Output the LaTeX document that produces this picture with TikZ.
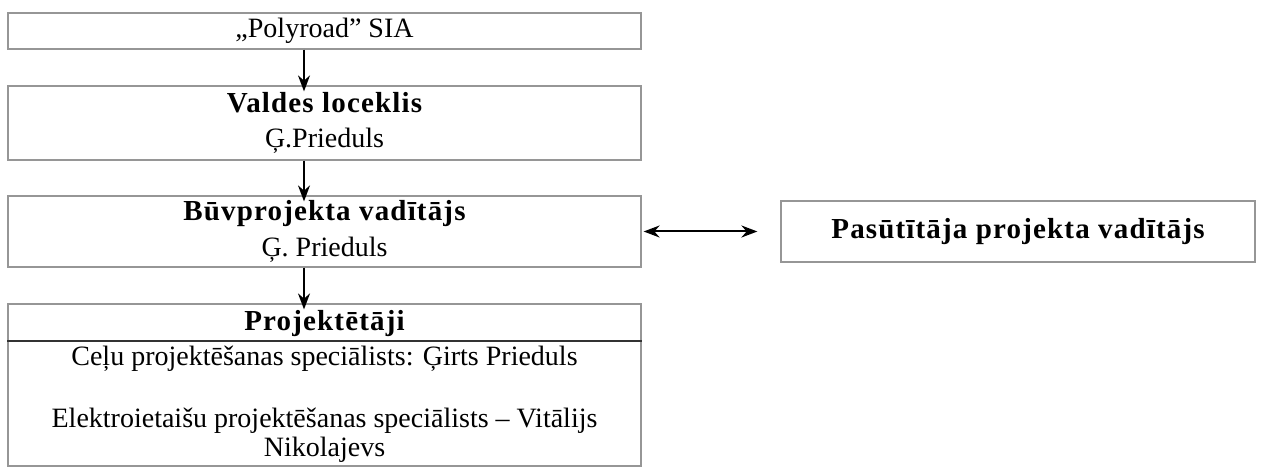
\documentclass[tikz,border=0pt]{standalone}
\usepackage{fontspec}
\setmainfont{Liberation Serif}
\usetikzlibrary{arrows.meta, positioning}
\definecolor{frame1}{RGB}{150, 150, 150}
\newcommand{\headtxt}[1]{{\bfseries\fontsize{14.5}{17.75}\selectfont\addfontfeatures{LetterSpace=4}#1}}

\begin{document}
\begin{tikzpicture}[x=0.5pt, y=-0.5pt,
  box/.style={draw=frame1, line width=0.6pt, inner sep=0pt, minimum width=316.5pt, align=center,
    font=\fontsize{14}{17.75}\selectfont},
  arr/.style={-{Stealth[length=8pt, width=6pt]}, line width=0.9pt, shorten >=-3pt},
  twoway/.style={{Stealth[length=8pt, width=6pt]}-{Stealth[length=8pt, width=6pt]}, line width=1pt}]
  \useasboundingbox (0,0) rectangle (1261,469);

  % chain of boxes
  \node[box, minimum height=18pt] (firm) at (324.5,31) {„Polyroad” SIA};
  \node[box, minimum height=37pt] (valdes) at (324.5,123) {\headtxt{Valdes loceklis}\\Ģ.Prieduls};
  \node[box, minimum height=35.5pt] (buv) at (324.5,231.5) {\headtxt{Būvprojekta vadītājs}\\Ģ. Prieduls};
  \node[box, minimum height=81pt] (proj) at (324.5,385) {};
  \node[inner sep=0pt] (projhead) at (324.5,324) {\headtxt{Projektētāji}};
  \coordinate (cut) at (324.5,341);
  \draw[black!80, line width=0.8pt] (proj.west |- cut) -- (proj.east |- cut);
  \node[anchor=north, inner sep=0pt, align=center,
    font=\fontsize{14}{14.75}\selectfont] (projtxt) at (324.5,346)
    {Ceļu projektēšanas speciālists: Ģirts Prieduls\\[16pt]
     Elektroietaišu projektēšanas speciālists – Vitālijs\\Nikolajevs};

  % client side
  \node[box, minimum width=237pt, minimum height=30.5pt] (pas) at (1018,231.5) {\headtxt{Pasūtītāja projekta vadītājs}};

  \draw[arr] ([xshift=-10.25pt]firm.south) -- ([xshift=-10.25pt]valdes.north);
  \draw[arr] ([xshift=-10.25pt]valdes.south) -- ([xshift=-10.25pt]buv.north);
  \draw[arr] ([xshift=-10.25pt]buv.south) -- ([xshift=-10.25pt]proj.north);
  \draw[twoway, shorten <=1pt, shorten >=11.5pt] (buv.east) -- (pas.west);
\end{tikzpicture}
\end{document}
